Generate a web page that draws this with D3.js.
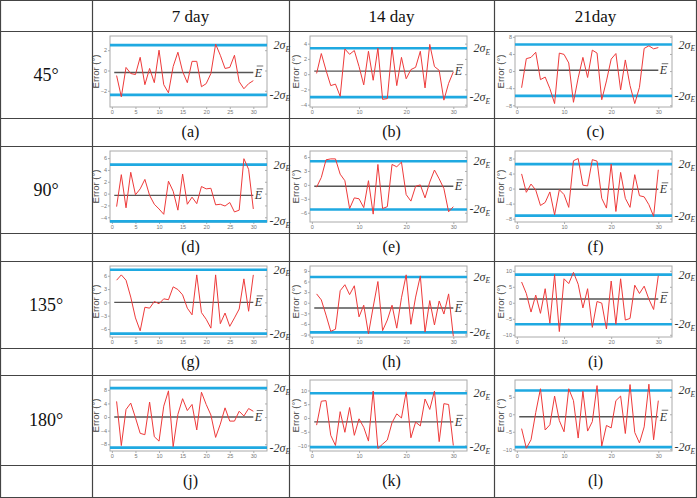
<!DOCTYPE html>
<html>
<head>
<meta charset="utf-8">
<script src="https://cdn.jsdelivr.net/npm/d3@7"></script>
<style>
  body { margin: 0; background: #fff; }
  svg { display: block; }
  .grid-line { stroke: #444; stroke-width: 1.2; }
  .cell-text { font-family: "Liberation Serif", "Times New Roman", serif; fill: #111; }
  .frame { fill: none; stroke: #aaa; stroke-width: 1; }
  .axis text { font-family: "Liberation Sans", Arial, sans-serif; font-size: 5.5px; fill: #777; }
  .axis path, .axis line { stroke: #999; stroke-width: 0.8; }
  .ylab { font-family: "Liberation Sans", Arial, sans-serif; font-size: 9.5px; fill: #444; }
  .sig { font-family: "Liberation Serif", "Times New Roman", serif; font-style: italic; font-size: 12px; fill: #333; }
</style>
</head>
<body>
<div id="chart"></div>
<script>
// Table headings
const colNames = ["7 day", "14 day", "21day"];
const rowNames = ["45°", "90°", "135°", "180°"];
const panelNames = ["(a)", "(b)", "(c)", "(d)", "(e)", "(f)", "(g)", "(h)", "(i)", "(j)", "(k)", "(l)"];
const days = d3.range(1, 31);

// Error series, 30 samples each
const errA = [-0.5, -2.6, 0.3, -0.3, -0.4, 1.3, -1.4, 0.2, -1.2, 2.0, -1.4, -2.2, 0.4, 1.8, -0.1, -1.2, 0.9, 0.9, -1.6, -1.3, -0.3, 2.6, 1.5, 0.2, 0.3, 1.5, -1.1, -1.8, -1.3, -1.0];
const errB = [0.1, 2.7, 0.5, -1.5, -1.3, -2.9, 3.3, 2.6, 3.1, 1.0, -1.4, 3.0, -0.8, 3.4, -3.3, -3.2, 3.5, -1.5, 2.2, -0.6, 0.6, 0.9, 3.0, -1.8, 3.9, 1.0, 0.5, -3.4, -1.2, 0.3];
const errC = [-3.9, 2.9, 3.2, 4.4, -2.0, -1.4, -4.1, -7.6, 4.2, 3.9, 1.9, -7.3, -1.6, 3.2, -1.5, 4.9, 4.2, -6.7, -2.3, 2.8, 4.1, -4.4, 2.6, -3.4, -7.6, -3.8, 5.3, 5.9, 5.2, 5.5];
const errD = [-2.2, 3.2, -2.4, 3.6, -0.2, 0.8, 2.4, -0.3, -1.8, -2.6, -3.5, 2.1, 0.4, -2.8, 3.3, -1.8, -0.6, -1.7, 1.2, 0.8, 0.9, -1.9, -1.8, -2.1, -1.5, -3.1, -2.8, 5.9, 4.1, -2.6];
const errE = [-0.5, 1.6, 5.4, 5.6, 5.6, 2.3, 0.9, -5.1, -2.8, -3.0, -4.9, 0.9, -6.3, 4.4, -5.1, -4.7, 4.4, 3.9, 4.9, -2.1, -3.5, -0.3, 0.0, -2.8, 0.6, 3.2, 1.3, -0.8, -5.8, -4.7];
const errF = [3.9, -1.0, 1.2, -0.4, -4.5, -3.7, -0.9, -7.0, -0.3, -1.6, -5.0, 7.4, 8.0, 0.9, 0.7, 7.7, 7.3, -2.6, -5.2, 6.5, -6.1, 4.3, -2.6, -5.0, 3.7, -1.9, -2.2, -4.3, -7.4, 5.0];
const errG = [5.0, 6.2, 5.0, 1.2, -3.5, -6.4, -1.1, -1.3, 0.2, -0.3, 0.8, 0.6, 3.5, 2.9, 1.7, -1.3, -2.8, 6.2, -2.3, -3.8, -5.8, 6.2, -4.8, -2.4, -5.4, -3.5, -1.5, 5.3, -2.0, 6.2];
const errH = [2.5, 0.8, -3.5, -8.1, -7.5, 3.4, 5.1, 2.3, 4.8, -4.0, -0.7, -8.8, -1.2, 6.0, -7.9, -4.9, -0.7, -7.2, 1.4, 7.9, -6.1, 1.6, 7.6, -8.3, 0.6, -6.3, 0.5, -3.2, 2.5, -9.5];
const errI = [6.5, 2.9, -2.9, 2.4, -3.3, 4.4, -6.4, 8.8, -9.0, 7.5, 6.0, 9.5, 5.8, -1.6, 4.4, -7.7, 0.4, -0.1, -8.2, 6.8, -6.7, 7.5, -5.4, -4.9, 5.5, 2.9, 5.2, 1.1, -2.1, 8.5];
const errJ = [4.6, -8.4, 2.2, 4.1, -0.2, -4.8, -5.2, 4.4, -5.8, -7.1, 3.2, 7.7, -8.7, 0.8, 5.4, 1.9, 3.7, -3.8, 7.3, 3.7, 0.6, -6.0, -2.1, 2.7, -1.2, -1.2, 1.7, 0.3, 2.5, 1.7];
const errK = [-2.6, 6.1, 6.3, -6.3, -10.0, 2.3, -5.2, 3.8, -6.3, -0.3, -3.4, -8.4, 9.8, -11.1, -9.5, -8.0, -1.7, 1.5, 0.0, 9.5, -7.2, -1.5, -2.9, 6.9, 3.1, 9.8, -8.6, 5.2, 4.9, -10.0];
const errL = [-4.1, -9.7, -7.3, 0.5, 7.3, -4.5, -3.0, 5.2, -1.8, -5.0, 7.3, 3.9, -6.8, 6.6, -4.8, -2.1, 8.2, -9.1, -3.2, -3.9, 3.9, 5.2, -5.5, 8.5, -5.2, -8.2, -3.6, 8.6, -7.3, 3.9];
const series = [errA, errB, errC, errD, errE, errF, errG, errH, errI, errJ, errK, errL];

// Mean error and the ±2σ bands per panel
const meanE = [-0.2, 0.4, 0.2, -0.3, -0.3, -0.2, 0.0, -1.5, 1.2, 0.0, -1.4, -0.7];
const upper2s = [2.5, 3.4, 6.2, 4.9, 5.1, 6.5, 7.35, 7.3, 8.8, 8.5, 9.0, 6.8];
const lower2s = [-2.4, -3.0, -5.8, -4.7, -5.3, -7.2, -7.05, -8.4, -6.7, -9.0, -10.6, -9.4];

// Axis ranges / ticks per panel
const yMin = [-3.6, -4.3, -8.4, -4.8, -8.0, -8.9, -7.8, -9.7, -10.7, -10.0, -12.0, -10.5];
const yMax = [3.4, 5.0, 8.2, 7.2, 7.3, 10.0, 8.2, 10.4, 11.5, 10.9, 13.8, 9.8];
const yTicks = [
  [-2, 0, 2], [-4, -2, 0, 2, 4], [-8, -4, 0, 4, 8],
  [-4, -2, 0, 2, 4, 6], [-6, -3, 0, 3, 6], [-8, -4, 0, 4, 8],
  [-6, -3, 0, 3, 6], [-9, -6, -3, 0, 3, 6, 9], [-10, -5, 0, 5, 10],
  [-8, -4, 0, 4, 8], [-10, -5, 0, 5, 10], [-10, -5, 0, 5]
];
const xTicksByCol = [[0, 5, 10, 15, 20, 25, 30], [0, 10, 20, 30], [0, 10, 20, 30]];

const W = 697, H = 498;
const colX = [0, 92, 289, 494, 697];
const rowY = [0, 31, 118, 146, 233, 261, 348, 375, 465, 497];
const frameOff = [18, 21, 21];
const fw = 157, fh = 71;

const svg = d3.select("#chart").append("svg").attr("width", W).attr("height", H);
svg.append("rect").attr("width", W).attr("height", H).attr("fill", "#fff");

// table grid
const grid = svg.append("g");
rowY.forEach((yy, i) => {
  const yv = i === 0 ? 0.5 : (i === rowY.length - 1 ? H - 0.5 : yy + 0.5);
  grid.append("line").attr("class", "grid-line").attr("x1", 0).attr("x2", W).attr("y1", yv).attr("y2", yv);
});
colX.forEach((xx, i) => {
  const xv = i === 0 ? 0.5 : (i === colX.length - 1 ? W - 0.5 : xx + 0.5);
  grid.append("line").attr("class", "grid-line").attr("x1", xv).attr("x2", xv).attr("y1", 0).attr("y2", H);
});

// header
colNames.forEach((t, c) => {
  svg.append("text").attr("class", "cell-text").attr("font-size", 17)
    .attr("x", (colX[c + 1] + colX[c + 2]) / 2).attr("y", (rowY[0] + rowY[1]) / 2 + 6)
    .attr("text-anchor", "middle").text(t);
});
rowNames.forEach((t, r) => {
  const top = rowY[1 + r * 2], bot = rowY[2 + r * 2];
  svg.append("text").attr("class", "cell-text").attr("font-size", 18)
    .attr("x", colX[1] / 2).attr("y", (top + bot) / 2 + 6)
    .attr("text-anchor", "middle").text(t);
});

series.forEach((vals, k) => {
  const r = Math.floor(k / 3), c = k % 3;
  const top = rowY[1 + r * 2];
  const labTop = rowY[2 + r * 2], labBot = rowY[3 + r * 2];
  const fx = colX[c + 1] + frameOff[c], fy = top + 5;

  svg.append("text").attr("class", "cell-text").attr("font-size", 16)
    .attr("x", (colX[c + 1] + colX[c + 2]) / 2).attr("y", (labTop + labBot) / 2 + 5)
    .attr("text-anchor", "middle").text(panelNames[k]);

  const g = svg.append("g").attr("transform", `translate(${fx},${fy})`);
  const x = d3.scaleLinear([-0.4, 32.9], [0, fw]);
  const y = d3.scaleLinear([yMin[k], yMax[k]], [fh, 0]);

  g.append("g").attr("class", "axis").attr("transform", `translate(0,${fh})`)
    .call(d3.axisBottom(x).tickValues(xTicksByCol[c]).tickSize(2).tickPadding(1).tickFormat(d3.format("d")))
    .call((a) => a.select(".domain").remove());
  g.append("g").attr("class", "axis")
    .call(d3.axisLeft(y).tickValues(yTicks[k]).tickSize(2).tickPadding(1).tickFormat(d3.format("d")))
    .call((a) => a.select(".domain").remove());
  g.append("g").attr("class", "axis").attr("transform", `translate(${fw},0)`)
    .call(d3.axisLeft(y).tickValues(yTicks[k]).tickSize(2).tickFormat(""))
    .call((a) => a.select(".domain").remove());

  g.append("rect").attr("class", "frame").attr("width", fw).attr("height", fh);

  [upper2s[k], lower2s[k]].forEach((v) => {
    g.append("line").attr("x1", 0).attr("x2", fw).attr("y1", y(v)).attr("y2", y(v))
      .attr("stroke", "#1fa9e1").attr("stroke-width", 2.6);
  });
  g.append("line").attr("x1", x(0.5)).attr("x2", x(30)).attr("y1", y(meanE[k])).attr("y2", y(meanE[k]))
    .attr("stroke", "#555").attr("stroke-width", 1.4);

  g.append("path").datum(vals)
    .attr("fill", "none").attr("stroke", "#ee3a3a").attr("stroke-width", 1)
    .attr("d", d3.line().x((d, i) => x(days[i])).y((d) => y(d)));

  // E-bar label
  const ex = x(30.3);
  g.append("text").attr("class", "sig").attr("x", ex).attr("y", y(meanE[k]) + 4).text("E");
  g.append("line").attr("x1", ex + 2).attr("x2", ex + 8.5).attr("y1", y(meanE[k]) - 6.5).attr("y2", y(meanE[k]) - 6.5)
    .attr("stroke", "#333").attr("stroke-width", 0.7);

  const sig = (v, txt) => {
    const t = g.append("text").attr("class", "sig").attr("x", fw + 23).attr("y", y(v) + 4).attr("text-anchor", "end");
    t.append("tspan").text(txt + "σ");
    t.append("tspan").attr("font-size", 7.5).attr("dy", 2.5).text("E");
  };
  sig(upper2s[k], "2");
  sig(lower2s[k], "-2");

  g.append("text").attr("class", "ylab").attr("text-anchor", "middle")
    .attr("transform", `translate(${-11},${fh / 2}) rotate(-90)`).text("Error (°)");
});
</script>
</body>
</html>
